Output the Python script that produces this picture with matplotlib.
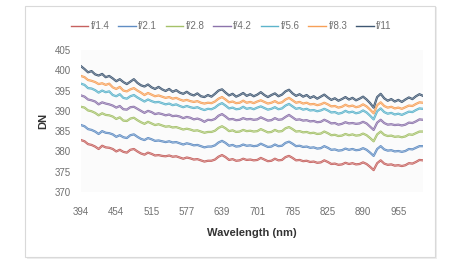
import matplotlib
matplotlib.use("Agg")
import matplotlib.pyplot as plt
from matplotlib.patches import Rectangle

plt.rcParams['font.family'] = ['Liberation Sans Narrow', 'Liberation Sans', 'DejaVu Sans']

tick_labels = ["394", "454", "515", "577", "639", "701", "785", "825", "890", "955"]
names = ["f/1.4", "f/2.1", "f/2.8", "f/4.2", "f/5.6", "f/8.3", "f/11"]
colors = ["#C0504D", "#4F81BD", "#9BBB59", "#8064A2", "#4BACC6", "#F79646", "#2A4563"]

f11 = [401.0, 400.3, 399.5, 399.8, 399.0, 398.7, 399.1, 398.3, 398.6, 398.0,
       397.3, 397.8, 397.1, 396.6, 397.2, 397.8, 396.9, 396.3, 396.0, 396.5,
       395.8, 395.4, 395.9, 395.3, 394.9, 395.4, 394.7, 395.1, 394.5, 394.2,
       394.7, 394.1, 393.8, 394.3, 393.6, 393.4, 393.9, 393.5, 394.2, 395.0,
       395.3, 394.5, 393.8, 394.2, 393.5, 393.9, 394.4, 393.7, 394.1, 393.6,
       394.0, 394.6, 393.9, 393.4, 393.9, 394.3, 393.6, 394.0, 394.8, 395.2,
       394.3, 393.7, 394.1, 393.5, 393.9, 393.2, 393.6, 393.0, 393.5, 394.0,
       393.3, 392.7, 393.1, 392.5, 392.9, 393.4, 392.8, 393.2, 392.6, 393.0,
       393.5, 392.8, 391.9, 390.8, 393.4, 394.2, 393.1, 392.5, 392.9, 392.3,
       392.7, 392.2, 392.8, 393.3, 392.9, 393.6, 394.1, 393.7]
f83 = [398.6, 398.3, 397.6, 397.4, 397.1, 396.6, 396.8, 396.4, 396.7, 395.8,
       395.4, 395.9, 395.0, 394.8, 395.3, 395.6, 395.0, 394.5, 393.9, 394.4,
       394.0, 393.6, 393.8, 393.5, 393.2, 393.4, 393.0, 393.2, 392.8, 392.5,
       392.7, 392.4, 392.2, 392.4, 392.0, 391.8, 392.0, 391.9, 392.3, 393.0,
       393.4, 392.8, 392.1, 392.3, 391.9, 392.0, 392.5, 392.0, 392.2, 391.9,
       392.3, 392.6, 392.2, 391.8, 392.0, 392.4, 391.9, 392.1, 392.8, 393.2,
       392.6, 392.0, 392.2, 391.8, 392.0, 391.6, 391.7, 391.4, 391.6, 392.0,
       391.6, 391.1, 391.2, 390.8, 391.0, 391.5, 391.1, 391.3, 390.9, 391.1,
       391.6, 391.1, 390.3, 389.4, 391.4, 392.1, 391.2, 390.8, 391.0, 390.6,
       390.8, 390.5, 390.9, 391.3, 391.2, 391.7, 392.1, 392.0]
f56 = [396.7, 396.4, 395.6, 395.5, 395.1, 394.5, 395.0, 394.6, 394.8, 393.9,
       393.6, 394.1, 393.2, 393.0, 393.6, 393.9, 393.3, 392.8, 392.3, 392.8,
       392.4, 392.1, 392.2, 391.9, 391.6, 391.8, 391.4, 391.6, 391.2, 390.9,
       391.2, 390.9, 390.7, 390.9, 390.5, 390.2, 390.5, 390.4, 390.8, 391.5,
       391.9, 391.3, 390.6, 390.8, 390.4, 390.5, 391.0, 390.5, 390.7, 390.4,
       390.8, 391.1, 390.7, 390.3, 390.5, 390.9, 390.4, 390.6, 391.3, 391.7,
       391.1, 390.5, 390.7, 390.3, 390.5, 390.1, 390.2, 389.9, 390.1, 390.5,
       390.1, 389.6, 389.7, 389.3, 389.5, 390.0, 389.6, 389.8, 389.4, 389.6,
       390.1, 389.6, 388.8, 387.9, 389.9, 390.6, 389.7, 389.3, 389.5, 389.1,
       389.3, 389.0, 389.4, 389.8, 389.7, 390.2, 390.6, 390.5]
f42 = [393.8, 393.5, 392.8, 392.6, 392.3, 391.6, 392.1, 391.8, 391.6, 391.3,
       390.8, 391.2, 390.4, 390.3, 390.9, 391.0, 390.5, 390.0, 389.5, 390.0,
       389.7, 389.2, 389.4, 389.2, 388.9, 389.1, 388.7, 388.8, 388.6, 388.2,
       388.5, 388.3, 387.9, 388.1, 387.8, 387.3, 387.8, 387.7, 388.0, 388.8,
       389.2, 388.6, 387.9, 388.0, 387.7, 387.8, 388.2, 387.9, 388.0, 387.8,
       387.9, 388.4, 388.0, 387.6, 387.7, 388.2, 387.8, 387.9, 388.5, 389.0,
       388.4, 387.8, 387.9, 387.6, 387.7, 387.4, 387.5, 387.2, 387.3, 387.8,
       387.4, 386.9, 387.0, 386.6, 386.8, 387.2, 386.9, 387.0, 386.8, 386.9,
       387.3, 386.9, 386.1, 385.3, 387.1, 387.8, 387.0, 386.6, 386.7, 386.5,
       386.6, 386.4, 386.6, 387.1, 387.0, 387.4, 387.9, 387.8]
f28 = [391.0, 390.8, 390.1, 389.9, 389.5, 388.9, 389.4, 389.0, 388.9, 388.6,
       388.0, 388.4, 387.6, 387.5, 388.1, 388.3, 387.7, 387.2, 386.8, 387.3,
       386.9, 386.5, 386.7, 386.4, 386.1, 386.2, 385.9, 386.0, 385.7, 385.4,
       385.6, 385.4, 385.1, 385.2, 384.9, 384.6, 384.8, 384.8, 385.1, 385.8,
       386.2, 385.7, 385.0, 385.2, 384.8, 384.9, 385.3, 385.0, 385.1, 384.9,
       385.0, 385.5, 385.1, 384.7, 384.8, 385.3, 384.9, 385.0, 385.7, 386.0,
       385.5, 384.9, 385.0, 384.7, 384.8, 384.5, 384.6, 384.3, 384.4, 384.9,
       384.5, 384.0, 384.1, 383.8, 383.9, 384.3, 384.0, 384.2, 383.9, 384.0,
       384.4, 384.0, 383.3, 382.5, 384.2, 384.9, 384.1, 383.8, 383.9, 383.6,
       383.7, 383.5, 383.7, 384.2, 384.1, 384.5, 384.9, 384.9]
f21 = [386.5, 386.2, 385.5, 385.3, 384.9, 384.3, 385.0, 384.6, 384.5, 384.2,
       383.6, 384.0, 383.5, 383.3, 384.0, 384.2, 383.6, 383.1, 382.8, 383.3,
       383.0, 382.6, 382.7, 382.5, 382.3, 382.5, 382.2, 382.3, 382.0, 381.7,
       382.0, 381.8, 381.5, 381.6, 381.3, 381.0, 381.2, 381.2, 381.5, 382.2,
       382.6, 382.1, 381.4, 381.6, 381.2, 381.3, 381.7, 381.4, 381.5, 381.3,
       381.4, 381.9, 381.5, 381.1, 381.2, 381.7, 381.3, 381.4, 382.1, 382.4,
       381.9, 381.3, 381.4, 381.1, 381.2, 380.9, 381.0, 380.7, 380.8, 381.3,
       380.9, 380.4, 380.5, 380.2, 380.3, 380.7, 380.4, 380.6, 380.3, 380.4,
       380.8, 380.4, 379.7, 378.9, 380.6, 381.3, 380.5, 380.2, 380.3, 380.0,
       380.1, 379.9, 380.1, 380.6, 380.5, 380.9, 381.3, 381.3]
f14 = [382.8, 382.5, 381.8, 381.6, 381.2, 380.6, 381.4, 381.0, 380.9, 380.6,
       380.0, 380.4, 379.9, 379.7, 380.4, 380.6, 380.0, 379.5, 379.2, 379.7,
       379.4, 379.0, 379.1, 378.9, 378.8, 379.0, 378.7, 378.8, 378.5, 378.2,
       378.5, 378.3, 378.0, 378.1, 377.8, 377.5, 377.7, 377.7, 378.0, 378.7,
       379.1, 378.6, 377.9, 378.1, 377.7, 377.8, 378.2, 377.9, 378.0, 377.8,
       377.9, 378.4, 378.0, 377.6, 377.7, 378.2, 377.8, 377.9, 378.6, 378.9,
       378.4, 377.8, 377.9, 377.6, 377.7, 377.4, 377.5, 377.2, 377.3, 377.8,
       377.4, 376.9, 377.0, 376.7, 376.8, 377.2, 376.9, 377.1, 376.8, 376.9,
       377.3, 376.9, 376.2, 375.4, 377.1, 377.8, 377.0, 376.7, 376.8, 376.5,
       376.6, 376.4, 376.6, 377.1, 377.0, 377.4, 377.9, 377.8]

series = [f14, f21, f28, f42, f56, f83, f11]

fig = plt.figure(figsize=(4.65, 2.75), dpi=100)
fig.patch.set_facecolor("white")

# excel style chart frame, kept behind the axes
fig.patches.append(Rectangle((27 / 465, 1 - 259 / 275), 410 / 465, 252 / 275,
                             transform=fig.transFigure, facecolor="#eeeeee",
                             edgecolor="none", zorder=-2))
fig.patches.append(Rectangle((25 / 465, 1 - 257 / 275), 410 / 465, 251 / 275,
                             transform=fig.transFigure, facecolor="white",
                             edgecolor="#d9d9d9", linewidth=0.8, zorder=-1))

ax = fig.add_axes([81 / 465, 1 - 192 / 275, 342 / 465, 142 / 275])
ax.set_zorder(2)
ax.set_facecolor("#fbfbfb")

x = list(range(len(f11)))
for vals, name, c in zip(series, names, colors):
    ax.plot(x, vals, color=c, lw=1.6, alpha=0.9, label=name, solid_joinstyle="round")
    ax.plot(x, vals, color="white", lw=0.45, alpha=0.5)

ax.set_xlim(0, len(f11) - 1)
ax.set_ylim(370, 405)
ax.set_yticks(range(370, 406, 5))
ax.set_xticks(range(0, 10 * len(tick_labels), 10))
ax.set_xticklabels(tick_labels)
for s in ax.spines.values():
    s.set_visible(False)
ax.tick_params(length=0, labelsize=7, colors="#707070")
ax.tick_params(axis="y", pad=7)
ax.tick_params(axis="x", pad=11)

ax.set_xlabel("Wavelength (nm)", fontsize=8, fontweight="bold", color="#333333",
              family=["Liberation Sans", "DejaVu Sans"], labelpad=8)
ax.set_ylabel("DN", fontsize=8, fontweight="bold", color="#333333",
              family=["Liberation Sans", "DejaVu Sans"], labelpad=5)

handles = ax.get_lines()[::2]
leg = fig.legend(handles, names, loc="center", bbox_to_anchor=(231 / 465, 1 - 26 / 275),
                 ncol=7, frameon=False, fontsize=7, handlelength=1.8,
                 handletextpad=0.25, columnspacing=0.9, borderaxespad=0)
leg.set_zorder(3)
for t in leg.get_texts():
    t.set_color("#707070")
for h in leg.legend_handles:
    h.set_linewidth(1.0)

fig.savefig("out.png", dpi=100, facecolor="white")
